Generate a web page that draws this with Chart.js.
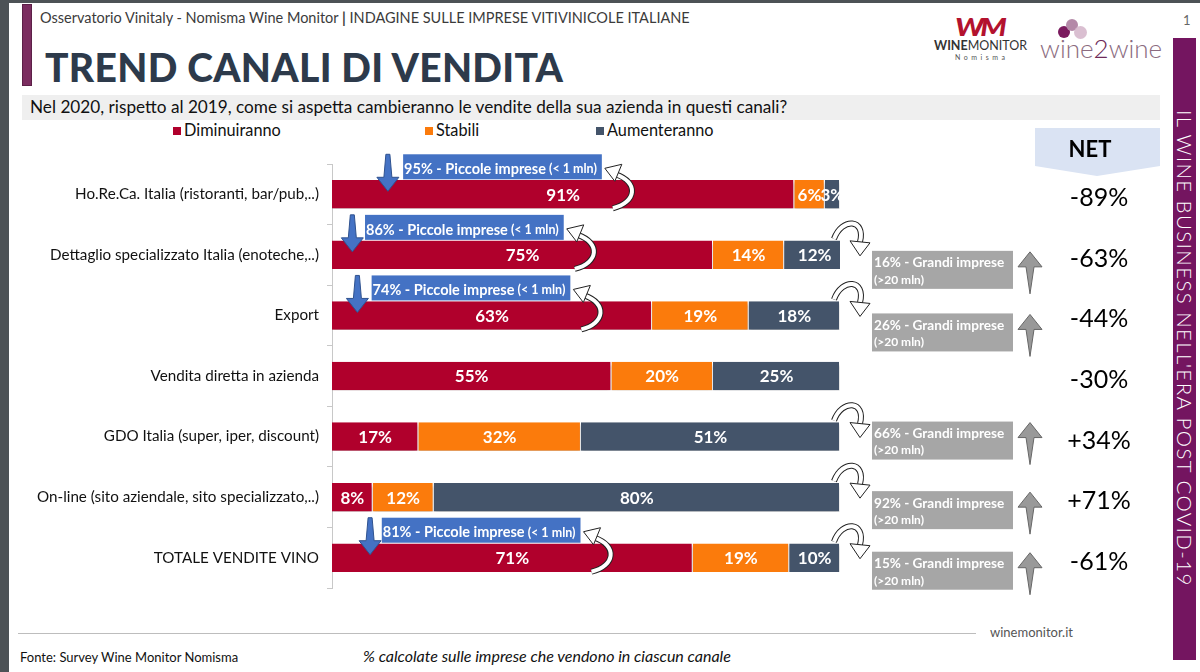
<!DOCTYPE html>
<html>
<head>
<meta charset="utf-8">
<script src="https://cdn.jsdelivr.net/npm/chart.js@4.4.1/dist/chart.umd.min.js"></script>
<style>
  body { margin: 0; width: 1200px; height: 672px; position: relative; background: #fff; font-family: Lato, sans-serif; overflow: hidden; }
  .abs { position: absolute; white-space: nowrap; }
  #trendChart { position: absolute; left: 0; top: 0; z-index: 2; }
</style>
</head>
<body>
<!-- cornice della slide -->
<div class="abs" style="left:0;top:0;width:9px;height:672px;background:#4d5256"></div>
<div class="abs" style="left:0;top:0;width:1200px;height:3px;background:#4d5256"></div>
<div class="abs" style="left:22px;top:4px;width:8px;height:80px;background:#7b2d60;border:1px solid #5c1f47"></div>
<div class="abs" style="left:40px;top:9px;font-size:14.5px;color:#3b3b3b">Osservatorio Vinitaly - Nomisma Wine Monitor <b>|</b> INDAGINE SULLE IMPRESE VITIVINICOLE ITALIANE</div>
<div class="abs" style="left:45px;top:44px;font-size:39px;font-weight:900;color:#2d3a4b;letter-spacing:0.3px">TREND CANALI DI VENDITA</div>
<div class="abs" style="left:22px;top:95px;width:1138px;height:25px;background:#efefef"></div>
<div class="abs" style="left:30px;top:96px;font-size:17.2px;color:#111">Nel 2020, rispetto al 2019, come si aspetta cambieranno le vendite della sua azienda in questi canali?</div>
<div id="legenda"></div>

<!-- loghi -->
<div class="abs" style="left:955px;top:8px;font-size:30px;font-weight:900;color:#b3122e;font-style:italic;letter-spacing:-4px;transform:scaleY(0.8)">WM</div>
<div class="abs" style="left:934px;top:38px;font-size:12.5px;color:#333"><b>WINE</b>MONITOR</div>
<div class="abs" style="left:955px;top:53px;font-size:7px;color:#555;letter-spacing:3.5px">Nomisma</div>
<div class="abs" style="left:1058px;top:26px;width:12px;height:12px;border-radius:50%;background:#7a1a5e"></div>
<div class="abs" style="left:1066px;top:19px;width:12px;height:12px;border-radius:50%;background:#b489a8"></div>
<div class="abs" style="left:1074px;top:26px;width:13px;height:13px;border-radius:50%;background:#d6b8cc;opacity:0.9"></div>
<div class="abs" style="left:1040px;top:32px;font-size:26px;font-weight:300;color:#8b6b80">wine<span style="color:#6e2a58">2</span>wine</div>
<div class="abs" style="left:1183px;top:12px;font-size:13px;color:#666">1</div>

<!-- banda laterale -->
<div class="abs" style="left:1173px;top:38px;width:23px;height:622px;background:#741560"></div>
<div class="abs" style="left:1173px;top:110px;width:23px;writing-mode:vertical-rl;font-size:20.5px;font-weight:300;letter-spacing:1.4px;color:#fff;line-height:23px;text-align:left">IL WINE BUSINESS NELL'ERA POST COVID-19</div>

<!-- piede -->
<div class="abs" style="left:18px;top:633px;width:958px;height:1px;background:#bdbdbd"></div>
<div class="abs" style="left:990px;top:624px;font-size:13px;color:#555">winemonitor.it</div>
<div class="abs" style="left:20px;top:649px;font-size:13px;color:#111">Fonte: Survey Wine Monitor Nomisma</div>
<div class="abs" style="left:363px;top:646px;font-size:16px;font-style:italic;color:#111">% calcolate sulle imprese che vendono in ciascun canale</div>

<canvas id="trendChart" width="1200" height="672"></canvas>

<script>
// Canali di vendita (asse y)
const canali = [
  'Ho.Re.Ca. Italia (ristoranti, bar/pub,..)',
  'Dettaglio specializzato Italia (enoteche,..)',
  'Export',
  'Vendita diretta in azienda',
  'GDO Italia (super, iper, discount)',
  'On-line (sito aziendale, sito specializzato,..)',
  'TOTALE VENDITE VINO'
];

// Quote % per risposta
const diminuiranno = [91, 75, 63, 55, 17, 8, 71];
const stabili = [6, 14, 19, 20, 32, 12, 19];
const aumenteranno = [3, 12, 18, 25, 51, 80, 10];

// Saldo NET e focus per dimensione d'impresa
const netValori = [-89, -63, -44, -30, 34, 71, -61];
const piccoleImprese = [95, 86, 74, null, null, null, 81];
const grandiImprese = [null, 16, 26, null, 66, 92, 15];

// Posizione dei box "Piccole imprese" (in unità dell'asse x) e scarto dei box "Grandi imprese"
const piccolePos = [{ freccia: 11, box: 14 }, { freccia: 4, box: 6.5 }, { freccia: 5, box: 7.8 }, null, null, null, { freccia: 7.5, box: 9.8 }];
const grandiDy = [0, -4, -2, 0, -15, -6, -6];

const colori = ['#B0002C', '#FB7B0C', '#44546A'];
const serie = [
  { label: 'Diminuiranno', data: diminuiranno },
  { label: 'Stabili', data: stabili },
  { label: 'Aumenteranno', data: aumenteranno }
];

// Legenda in HTML
const legX = [173, 425, 596];
document.getElementById('legenda').innerHTML = serie.map((s, i) =>
  `<div class="abs" style="left:${legX[i]}px;top:127px;width:8px;height:8px;background:${colori[i]}"></div>` +
  `<div class="abs" style="left:${legX[i] + 11}px;top:120px;font-size:16.3px;color:#111">${s.label}</div>`
).join('');

function frecciaGiu(ctx, x, top, tip) {
  const h = tip - 14;
  ctx.beginPath();
  ctx.moveTo(x - 2, top); ctx.lineTo(x + 2, top); ctx.lineTo(x + 4, h); ctx.lineTo(x + 11, h);
  ctx.lineTo(x, tip); ctx.lineTo(x - 11, h); ctx.lineTo(x - 4, h); ctx.closePath();
  ctx.fillStyle = '#4472C4'; ctx.fill();
  ctx.strokeStyle = '#2f528f'; ctx.lineWidth = 1; ctx.stroke();
}

function contornoCurva(ctx, disegna) {
  ctx.beginPath(); disegna();
  ctx.lineWidth = 6; ctx.strokeStyle = '#222'; ctx.stroke();
  ctx.beginPath(); disegna();
  ctx.lineWidth = 4; ctx.strokeStyle = '#fff'; ctx.stroke();
}

function punta(ctx, pts) {
  ctx.beginPath();
  ctx.moveTo(pts[0][0], pts[0][1]);
  pts.slice(1).forEach(p => ctx.lineTo(p[0], p[1]));
  ctx.closePath();
  ctx.fillStyle = '#fff'; ctx.fill();
  ctx.lineWidth = 1; ctx.strokeStyle = '#222'; ctx.stroke();
}

// freccia curva verso l'alto a sinistra (punta in x,y)
function frecciaCurvaSu(ctx, x, y) {
  contornoCurva(ctx, () => { ctx.moveTo(x + 11, y + 6); ctx.bezierCurveTo(x + 34, y + 14, x + 32, y + 34, x + 8, y + 40); });
  punta(ctx, [[x, y], [x + 17, y - 4], [x + 10, y + 13]]);
}

// freccia curva verso destra e in basso
function frecciaCurvaGiu(ctx, x, y) {
  contornoCurva(ctx, () => { ctx.moveTo(x - 6, y); ctx.bezierCurveTo(x + 2, y - 22, x + 26, y - 20, x + 20, y + 3); });
  punta(ctx, [[x + 20, y + 17], [x + 10, y + 2], [x + 30, y + 4]]);
}

function frecciaGrigia(ctx, x, top) {
  const h = top + 15;
  ctx.beginPath();
  ctx.moveTo(x, top); ctx.lineTo(x + 12, h); ctx.lineTo(x + 4, h); ctx.lineTo(x, top + 42);
  ctx.lineTo(x - 4, h); ctx.lineTo(x - 12, h); ctx.closePath();
  ctx.fillStyle = '#999'; ctx.fill();
  ctx.strokeStyle = '#666'; ctx.lineWidth = 1; ctx.stroke();
}

const annotazioni = {
  id: 'annotazioni',
  beforeDatasetsDraw(chart) {
    const ctx = chart.ctx;
    ctx.save();
    ctx.shadowColor = 'rgba(0,0,0,0.3)';
    ctx.shadowOffsetY = 3;
    ctx.shadowBlur = 3;
  },
  afterDatasetsDraw(chart) {
    const ctx = chart.ctx;
    ctx.restore();
    ctx.save();
    ctx.font = 'bold 17px Lato';
    ctx.fillStyle = '#fff';
    ctx.textAlign = 'center';
    ctx.textBaseline = 'middle';
    chart.data.datasets.forEach((ds, i) => {
      chart.getDatasetMeta(i).data.forEach((el, j) => {
        ctx.fillText(ds.data[j] + '%', (el.x + el.base) / 2, el.y + 1);
      });
    });
    ctx.restore();
  },
  afterDraw(chart) {
    const ctx = chart.ctx;
    const xs = chart.scales.x, ys = chart.scales.y;
    const fine = xs.getPixelForValue(100);
    ctx.save();

    // intestazione NET
    ctx.beginPath();
    ctx.moveTo(1035, 128); ctx.lineTo(1160, 128); ctx.lineTo(1160, 166);
    ctx.lineTo(1097, 176); ctx.lineTo(1035, 166); ctx.closePath();
    ctx.fillStyle = '#dae3f3'; ctx.fill();
    ctx.fillStyle = '#000'; ctx.font = 'bold 22px Lato';
    ctx.textAlign = 'center'; ctx.textBaseline = 'middle';
    ctx.fillText('NET', 1090, 150);

    canali.forEach((c, i) => {
      const cy = ys.getPixelForValue(i);
      const barTop = cy - 14;

      // valore NET
      ctx.fillStyle = '#000'; ctx.font = '25px Lato';
      ctx.textAlign = 'center'; ctx.textBaseline = 'middle';
      const n = netValori[i];
      ctx.fillText((n > 0 ? '+' : '') + n + '%', 1099, cy + 4);

      // piccole imprese
      if (piccoleImprese[i] != null) {
        const p = piccolePos[i];
        const bx = xs.getPixelForValue(p.box);
        const by = cy - 40;
        ctx.font = 'bold 14.5px Lato';
        const t1 = piccoleImprese[i] + '% - Piccole imprese';
        const w1 = ctx.measureText(t1).width;
        ctx.font = 'bold 12.5px Lato';
        const t2 = ' (< 1 mln)';
        const w2 = ctx.measureText(t2).width;
        const bw = w1 + w2 + 6;
        ctx.fillStyle = '#4472C4';
        ctx.fillRect(bx, by, bw, 25);
        ctx.fillStyle = '#fff'; ctx.textAlign = 'left';
        ctx.font = 'bold 14.5px Lato';
        ctx.fillText(t1, bx + 1, by + 15);
        ctx.font = 'bold 12.5px Lato';
        ctx.fillText(t2, bx + 1 + w1, by + 15);
        frecciaGiu(ctx, xs.getPixelForValue(p.freccia), cy - 40, cy - 3);
        frecciaCurvaSu(ctx, bx + bw + 3, by + 14);
      }

      // grandi imprese
      if (grandiImprese[i] != null) {
        const gx = fine + 32;
        const gy = cy + grandiDy[i];
        frecciaCurvaGiu(ctx, fine, barTop - 2);
        ctx.fillStyle = '#A6A6A6';
        ctx.fillRect(gx, gy, 141, 38);
        ctx.fillStyle = '#fff'; ctx.textAlign = 'left';
        ctx.font = 'bold 13.6px Lato';
        ctx.fillText(grandiImprese[i] + '% - Grandi imprese', gx + 2, gy + 12);
        ctx.font = 'bold 12px Lato';
        ctx.fillText('(>20 mln)', gx + 2, gy + 29);
        frecciaGrigia(ctx, gx + 158, gy + 1);
      }
    });
    ctx.restore();
  }
};

const config = {
  type: 'bar',
  data: {
    labels: canali,
    datasets: serie.map((s, i) => ({
      label: s.label,
      data: s.data,
      backgroundColor: colori[i],
      borderColor: '#fff',
      borderWidth: { top: 0, bottom: 0, left: 0, right: 1 },
      borderSkipped: false,
      categoryPercentage: 1,
      barPercentage: 0.47
    }))
  },
  options: {
    indexAxis: 'y',
    responsive: false,
    animation: false,
    layout: { padding: { left: 10, right: 360, top: 164, bottom: 84 } },
    plugins: {
      legend: { display: false },
      tooltip: { enabled: false }
    },
    scales: {
      x: { stacked: true, min: 0, max: 100, display: false },
      y: {
        stacked: true,
        grid: { offset: true, drawOnChartArea: false, tickLength: 5, color: '#c8c8c8' },
        border: { color: '#c8c8c8' },
        ticks: { color: '#111', font: { family: 'Lato', size: 15.2 }, padding: 8 },
        afterFit: (s) => { s.width = 322; }
      }
    }
  },
  plugins: [annotazioni]
};

const trendChart = new Chart(document.getElementById('trendChart'), config);
</script>
</body>
</html>
